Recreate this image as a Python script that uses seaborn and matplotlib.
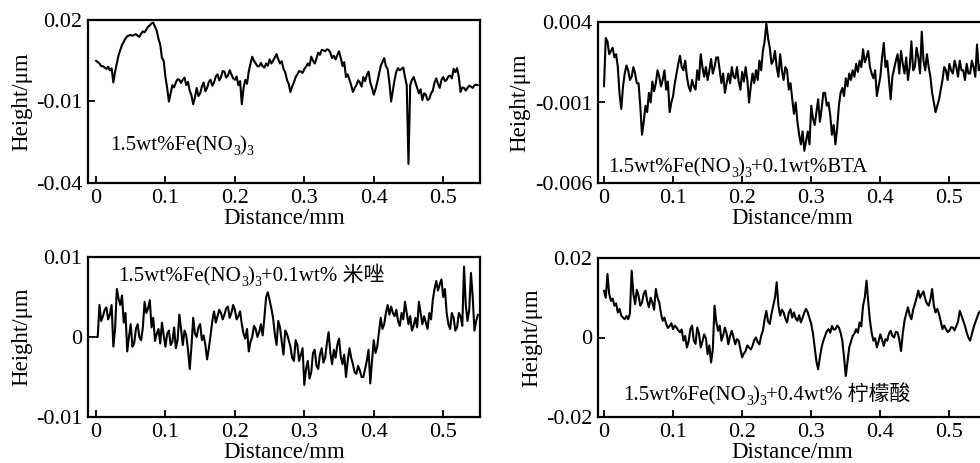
import numpy as np
import pandas as pd
import matplotlib
matplotlib.use("Agg")
import matplotlib.pyplot as plt
import seaborn as sns

# ---------------- data (profile heights, step 0.0025 mm) ----------------
distance = np.round(np.linspace(0.0, 0.55, 221), 4)

h_fe = [0.0050, 0.0045, 0.0040, 0.0030, 0.0030, 0.0025, 0.0020, 0.0028, 0.0015, 0.0022,
        -0.0030, 0.0010, 0.0040, 0.0070, 0.0090, 0.0108, 0.0120, 0.0132, 0.0140, 0.0143,
        0.0145, 0.0142, 0.0145, 0.0148, 0.0142, 0.0138, 0.0150, 0.0158, 0.0155, 0.0165,
        0.0175, 0.0180, 0.0188, 0.0190, 0.0175, 0.0160, 0.0130, 0.0110, 0.0060, 0.0050,
        -0.0010, -0.0050, -0.0100, -0.0070, -0.0040, -0.0048, -0.0030, -0.0018, -0.0020, -0.0032,
        -0.0020, -0.0012, -0.0040, -0.0028, -0.0060, -0.0078, -0.0110, -0.0085, -0.0050, -0.0080,
        -0.0070, -0.0045, -0.0030, -0.0062, -0.0050, -0.0028, -0.0020, -0.0042, -0.0030, -0.0008,
        0.0000, -0.0022, -0.0010, 0.0012, 0.0010, -0.0012, -0.0005, 0.0015, 0.0000, -0.0015,
        -0.0020, -0.0008, -0.0040, -0.0025, -0.0110, -0.0050, -0.0020, -0.0035, 0.0010, 0.0040,
        0.0065, 0.0050, 0.0040, 0.0030, 0.0030, 0.0042, 0.0030, 0.0025, 0.0040, 0.0032,
        0.0055, 0.0040, 0.0050, 0.0062, 0.0075, 0.0055, 0.0040, 0.0048, 0.0020, 0.0008,
        -0.0020, -0.0035, -0.0065, -0.0045, -0.0030, -0.0010, 0.0000, 0.0012, 0.0010, 0.0005,
        0.0020, 0.0028, 0.0040, 0.0032, 0.0065, 0.0050, 0.0040, 0.0058, 0.0080, 0.0072,
        0.0090, 0.0088, 0.0085, 0.0092, 0.0090, 0.0080, 0.0060, 0.0068, 0.0055, 0.0070,
        0.0085, 0.0060, 0.0030, 0.0045, -0.0010, 0.0000, -0.0020, -0.0040, -0.0065, -0.0050,
        -0.0040, -0.0022, -0.0030, -0.0045, -0.0010, -0.0025, -0.0003, 0.0010, -0.0030, -0.0050,
        -0.0075, -0.0055, -0.0030, 0.0000, 0.0030, 0.0045, 0.0060, 0.0030, 0.0020, -0.0030,
        -0.0100, -0.0060, -0.0020, 0.0010, 0.0023, 0.0015, 0.0020, 0.0025, -0.0010, -0.0040,
        -0.0330, -0.0040, -0.0020, -0.0010, -0.0030, -0.0050, -0.0070, -0.0055, -0.0095, -0.0070,
        -0.0075, -0.0095, -0.0090, -0.0070, -0.0060, -0.0030, -0.0015, -0.0035, -0.0050, -0.0020,
        -0.0010, -0.0025, -0.0020, -0.0008, -0.0005, -0.0015, 0.0020, 0.0008, 0.0023, -0.0010,
        -0.0065, -0.0048, -0.0050, -0.0060, -0.0050, -0.0042, -0.0045, -0.0050, -0.0040, -0.0038,
        -0.0040]

h_bta = [0.0000, 0.0030, 0.0028, 0.0020, 0.0022, 0.0024, 0.0018, 0.0020, 0.0012, -0.0005,
         -0.0014, 0.0000, 0.0008, 0.0013, 0.0010, 0.0004, 0.0006, 0.0012, 0.0008, 0.0002,
         0.0002, -0.0012, -0.0030, -0.0022, -0.0012, -0.0016, -0.0004, -0.0010, 0.0003, -0.0003,
         0.0002, 0.0010, 0.0006, 0.0000, 0.0004, 0.0010, -0.0002, 0.0003, -0.0016, -0.0010,
         -0.0006, 0.0002, 0.0008, 0.0014, 0.0019, 0.0012, 0.0010, 0.0016, 0.0006, 0.0000,
         -0.0003, 0.0004, 0.0000, -0.0002, 0.0010, 0.0004, 0.0020, 0.0012, 0.0006, 0.0012,
         0.0004, 0.0010, 0.0017, 0.0008, 0.0012, 0.0018, 0.0018, 0.0010, 0.0002, 0.0008,
         -0.0004, 0.0002, 0.0008, 0.0002, 0.0012, 0.0006, 0.0005, 0.0012, 0.0003, -0.0002,
         0.0009, 0.0003, 0.0012, 0.0004, -0.0010, 0.0000, 0.0008, 0.0002, 0.0010, 0.0004,
         0.0016, 0.0010, 0.0022, 0.0028, 0.0039, 0.0030, 0.0024, 0.0014, 0.0016, 0.0022,
         0.0012, 0.0006, 0.0020, 0.0010, 0.0004, 0.0012, 0.0010, -0.0002, 0.0002, -0.0008,
         -0.0017, -0.0010, -0.0022, -0.0030, -0.0036, -0.0028, -0.0040, -0.0034, -0.0028, -0.0036,
         -0.0012, -0.0020, -0.0024, -0.0016, -0.0008, -0.0022, -0.0014, -0.0004, -0.0004, -0.0012,
         -0.0010, -0.0018, -0.0030, -0.0024, -0.0036, -0.0026, -0.0012, -0.0004, -0.0001, -0.0006,
         0.0005, 0.0000, 0.0008, 0.0004, 0.0010, 0.0006, 0.0014, 0.0009, 0.0016, 0.0012,
         0.0023, 0.0015, 0.0018, 0.0022, 0.0012, 0.0008, 0.0005, 0.0010, -0.0006, 0.0000,
         0.0006, 0.0018, 0.0027, 0.0012, 0.0016, 0.0004, -0.0008, 0.0006, 0.0011, 0.0016,
         0.0020, 0.0008, 0.0022, 0.0014, 0.0008, 0.0018, 0.0004, 0.0012, 0.0028, 0.0010,
         0.0012, 0.0024, 0.0018, 0.0008, 0.0034, 0.0016, 0.0010, 0.0020, 0.0012, 0.0006,
         -0.0004, -0.0010, -0.0016, -0.0012, -0.0008, -0.0002, 0.0004, 0.0012, 0.0010, 0.0004,
         0.0014, 0.0010, 0.0008, 0.0016, 0.0012, 0.0006, 0.0016, 0.0010, 0.0010, 0.0004,
         0.0014, 0.0008, 0.0008, 0.0016, 0.0012, 0.0006, 0.0026, 0.0010, 0.0012, 0.0020,
         0.0016]

h_mz = [0.0000, 0.0000, 0.0040, 0.0020, 0.0026, 0.0034, 0.0037, 0.0022, 0.0028, 0.0040,
        -0.0012, 0.0010, 0.0060, 0.0048, 0.0040, 0.0052, 0.0018, 0.0030, -0.0018, 0.0000,
        0.0016, -0.0012, -0.0008, 0.0010, 0.0016, 0.0000, -0.0004, 0.0012, 0.0044, 0.0030,
        0.0036, 0.0046, 0.0012, 0.0024, -0.0005, 0.0004, 0.0010, -0.0008, 0.0018, 0.0002,
        -0.0012, 0.0004, 0.0008, -0.0010, -0.0006, 0.0012, -0.0014, -0.0004, 0.0028, 0.0010,
        -0.0010, 0.0008, 0.0002, -0.0016, -0.0040, -0.0012, 0.0024, 0.0004, 0.0000, 0.0012,
        0.0016, -0.0004, 0.0002, -0.0010, -0.0028, -0.0014, 0.0002, 0.0020, 0.0032, 0.0018,
        0.0026, 0.0034, 0.0030, 0.0022, 0.0028, 0.0036, 0.0038, 0.0024, 0.0030, 0.0040,
        0.0034, 0.0022, 0.0026, 0.0032, 0.0016, 0.0004, -0.0002, 0.0010, -0.0018, -0.0006,
        0.0000, 0.0014, 0.0010, 0.0000, 0.0006, 0.0016, 0.0002, 0.0024, 0.0050, 0.0056,
        0.0046, 0.0036, 0.0024, 0.0004, -0.0010, 0.0020, 0.0012, -0.0006, -0.0022, 0.0008,
        0.0004, -0.0004, -0.0012, -0.0026, -0.0030, -0.0004, -0.0010, -0.0030, -0.0022, -0.0014,
        -0.0060, -0.0040, -0.0030, -0.0052, -0.0044, -0.0020, -0.0016, -0.0036, -0.0040, -0.0022,
        -0.0014, -0.0032, -0.0026, -0.0008, 0.0006, -0.0020, -0.0034, -0.0016, -0.0026, -0.0010,
        -0.0002, -0.0024, -0.0034, -0.0022, -0.0050, -0.0030, -0.0014, -0.0026, -0.0034, -0.0044,
        -0.0046, -0.0036, -0.0042, -0.0050, -0.0050, -0.0040, -0.0030, -0.0016, -0.0058, -0.0030,
        -0.0004, -0.0020, -0.0012, 0.0006, 0.0024, 0.0010, 0.0016, 0.0030, 0.0040, 0.0028,
        0.0038, 0.0030, 0.0026, 0.0034, 0.0020, 0.0014, 0.0030, 0.0022, 0.0044, 0.0030,
        0.0016, 0.0026, 0.0008, 0.0014, 0.0024, 0.0012, 0.0044, 0.0030, 0.0016, 0.0026,
        0.0018, 0.0010, 0.0030, 0.0022, 0.0046, 0.0060, 0.0070, 0.0058, 0.0066, 0.0072,
        0.0050, 0.0060, 0.0030, 0.0016, 0.0010, 0.0030, 0.0024, 0.0008, 0.0012, 0.0030,
        0.0026, 0.0014, 0.0088, 0.0040, 0.0020, 0.0034, 0.0080, 0.0050, 0.0008, 0.0020,
        0.0028]

h_ca = [0.0118, 0.0100, 0.0160, 0.0110, 0.0092, 0.0098, 0.0080, 0.0086, 0.0063, 0.0072,
        0.0055, 0.0050, 0.0046, 0.0054, 0.0046, 0.0060, 0.0168, 0.0110, 0.0084, 0.0120,
        0.0105, 0.0080, 0.0088, 0.0110, 0.0118, 0.0092, 0.0076, 0.0100, 0.0088, 0.0070,
        0.0122, 0.0100, 0.0088, 0.0060, 0.0042, 0.0050, 0.0034, 0.0024, 0.0029, 0.0036,
        0.0021, 0.0030, 0.0025, 0.0018, 0.0013, 0.0020, -0.0008, 0.0004, -0.0025, -0.0010,
        0.0021, 0.0030, -0.0008, -0.0016, 0.0025, 0.0010, -0.0025, -0.0010, 0.0008, -0.0002,
        -0.0042, -0.0020, -0.0063, -0.0030, 0.0080, 0.0040, 0.0017, 0.0030, -0.0008, 0.0006,
        0.0025, 0.0010, -0.0017, 0.0004, 0.0017, 0.0000, -0.0017, -0.0004, -0.0008, -0.0030,
        -0.0050, -0.0040, -0.0034, -0.0020, -0.0025, -0.0030, -0.0021, -0.0006, 0.0000, -0.0012,
        -0.0017, 0.0004, 0.0017, 0.0046, 0.0067, 0.0040, 0.0034, 0.0060, 0.0080, 0.0100,
        0.0139, 0.0080, 0.0055, 0.0070, 0.0063, 0.0048, 0.0038, 0.0062, 0.0071, 0.0050,
        0.0063, 0.0048, 0.0042, 0.0056, 0.0038, 0.0050, 0.0063, 0.0072, 0.0063, 0.0048,
        0.0034, 0.0010, -0.0025, -0.0060, -0.0080, -0.0050, -0.0025, -0.0008, 0.0004, 0.0016,
        0.0021, 0.0012, 0.0029, 0.0020, 0.0021, 0.0030, 0.0025, 0.0012, -0.0008, -0.0050,
        -0.0097, -0.0060, -0.0025, -0.0010, 0.0004, 0.0010, 0.0021, 0.0012, 0.0038, 0.0028,
        0.0080, 0.0100, 0.0143, 0.0090, 0.0042, 0.0012, -0.0008, -0.0002, -0.0025, -0.0010,
        0.0008, -0.0006, -0.0021, -0.0004, -0.0008, 0.0010, 0.0017, 0.0004, 0.0000, 0.0014,
        0.0013, -0.0006, -0.0034, 0.0010, 0.0042, 0.0060, 0.0076, 0.0056, 0.0046, 0.0070,
        0.0084, 0.0100, 0.0118, 0.0100, 0.0109, 0.0116, 0.0097, 0.0085, 0.0080, 0.0096,
        0.0122, 0.0080, 0.0063, 0.0072, 0.0059, 0.0040, 0.0021, 0.0030, 0.0021, 0.0014,
        0.0017, 0.0026, 0.0025, 0.0018, 0.0029, 0.0040, 0.0067, 0.0055, 0.0042, 0.0030,
        0.0013, 0.0000, -0.0008, 0.0008, 0.0025, 0.0038, 0.0050, 0.0062, 0.0067, 0.0055,
        0.0050]

panel_series = [h_fe, h_bta, h_mz, h_ca]
# annotation pieces: (text, kind) kind: "n" normal, "s" subscript, "c" CJK
panel_notes = [
    [("1.5wt%Fe(NO", "n"), ("3", "s"), (")", "n"), ("3", "s")],
    [("1.5wt%Fe(NO", "n"), ("3", "s"), (")", "n"), ("3", "s"), ("+0.1wt%BTA", "n")],
    [("1.5wt%Fe(NO", "n"), ("3", "s"), (")", "n"), ("3", "s"), ("+0.1wt%", "n"), (" 米唑", "c")],
    [("1.5wt%Fe(NO", "n"), ("3", "s"), (")", "n"), ("3", "s"), ("+0.4wt%", "n"), (" 柠檬酸", "c")],
]
y_tick_values = [[-0.04, -0.01, 0.02], [-0.006, -0.001, 0.004], [-0.01, 0.0, 0.01], [-0.02, 0.0, 0.02]]
y_tick_labels = [["-0.04", "-0.01", "0.02"], ["-0.006", "-0.001", "0.004"],
                 ["-0.01", "0", "0.01"], ["-0.02", "0", "0.02"]]
x_tick_values = [0.0, 0.1, 0.2, 0.3, 0.4, 0.5]
x_tick_labels = ["0", "0.1", "0.2", "0.3", "0.4", "0.5"]
x_label = "Distance/mm"
y_label = "Height/μm"

# ---------------- style ----------------
sns.set_theme(style="white")
plt.rcParams["font.family"] = ["Liberation Serif", "Noto Sans CJK SC"]
plt.rcParams["axes.unicode_minus"] = False

W, H = 980, 463
fig = plt.figure(figsize=(W / 100, H / 100), dpi=100)

# pixel boxes: left, right, top, bottom
boxes = [(88, 480, 20, 183), (598, 986, 22, 183), (88, 480, 257, 417), (598, 986, 258, 417)]
xlims = [(-0.0115, 0.553), (-0.0087, 0.553), (-0.0115, 0.553), (-0.0087, 0.553)]
# note start x and baseline y in pixels
note_anchor = [(110, 150), (608, 172), (118, 281), (623, 400)]

fs_note = 15
fs_tick = 16
fs_label = 16.5
renderer = fig.canvas.get_renderer()


def draw_note(x_px, base_px, pieces):
    x = x_px
    for s, kind in pieces:
        if kind == "s":
            t = fig.text(x / W, 1 - (base_px + 5) / H, s, fontsize=10, va="baseline",
                         ha="left", color="black", family=["Liberation Serif"])
        elif kind == "c":
            t = fig.text(x / W, 1 - base_px / H, s, fontsize=15, va="baseline",
                         ha="left", color="black", family=["Noto Sans CJK SC"])
        else:
            t = fig.text(x / W, 1 - base_px / H, s, fontsize=fs_note, va="baseline",
                         ha="left", color="black", family=["Liberation Serif"])
        x += t.get_window_extent(renderer=renderer).width


for i in range(4):
    l, r, t, b = boxes[i]
    ax = fig.add_axes([l / W, 1 - b / H, (r - l) / W, (b - t) / H])
    df = pd.DataFrame({"d": distance, "h": panel_series[i]})
    sns.lineplot(data=df, x="d", y="h", ax=ax, color="black", linewidth=1.5)
    ax.set_xlim(*xlims[i])
    ax.set_ylim(y_tick_values[i][0], y_tick_values[i][-1])
    ax.set_xticks(x_tick_values)
    ax.set_xticklabels(x_tick_labels)
    ax.set_yticks(y_tick_values[i])
    ax.set_yticklabels(y_tick_labels[i])
    ax.tick_params(direction="in", length=5, width=1.3, labelsize=fs_tick, colors="black",
                   top=False, right=False, bottom=True, left=True, pad=4)
    ax.set_xlabel(x_label, fontsize=fs_label, labelpad=0, color="black")
    ax.set_ylabel(y_label, fontsize=fs_label, labelpad=3, color="black")
    for s in ax.spines.values():
        s.set_visible(True)
        s.set_color("black")
        s.set_linewidth(1.6)
    draw_note(note_anchor[i][0], note_anchor[i][1], panel_notes[i])

fig.savefig("out.png", dpi=100)
